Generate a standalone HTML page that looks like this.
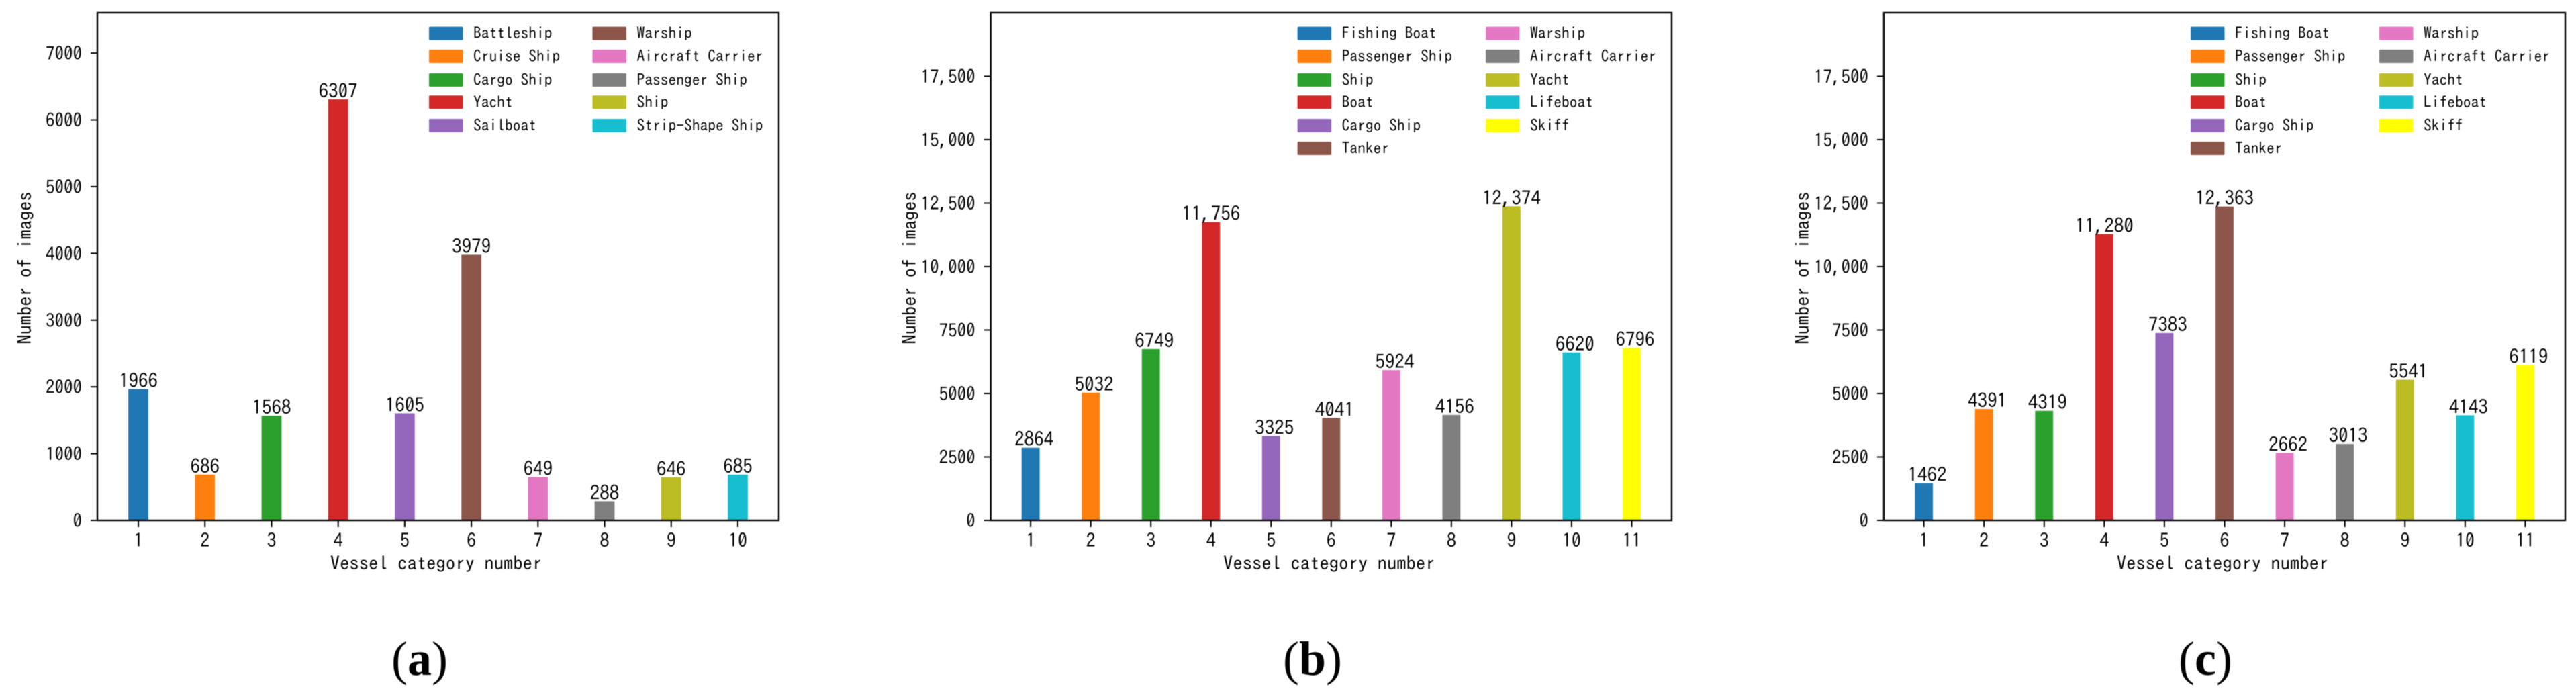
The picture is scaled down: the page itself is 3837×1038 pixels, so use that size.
<!DOCTYPE html>
<html>
<head>
<meta charset="utf-8">
<style>
html,body{margin:0;padding:0;background:#fff;}
svg{display:block;filter:blur(0.6px);}
text{font-family:"IPAGothic","Liberation Mono",monospace;fill:#000;}
.caption{font-family:"Liberation Serif",serif;}
</style>
</head>
<body>
<svg id="figure" xmlns="http://www.w3.org/2000/svg" width="3837" height="1038" viewBox="0 0 3837 1038"></svg>
<script>
const palette = ['#1f77b4','#ff7f0e','#2ca02c','#d62728','#9467bd','#8c564b','#e377c2','#7f7f7f','#bcbd22','#17becf','#ffff00'];

const aCategories = ['1','2','3','4','5','6','7','8','9','10'];
const aValues = [1966,686,1568,6307,1605,3979,649,288,646,685];
const aPrinted = ['1966','686','1568','6307','1605','3979','649','288','646','685'];
const aLegendNames = ['Battleship','Cruise Ship','Cargo Ship','Yacht','Sailboat','Warship','Aircraft Carrier','Passenger Ship','Ship','Strip-Shape Ship'];
const aTickValues = [0,1000,2000,3000,4000,5000,6000,7000];
const aTickLabels = ['0','1000','2000','3000','4000','5000','6000','7000'];

const bCategories = ['1','2','3','4','5','6','7','8','9','10','11'];
const bValues = [2864,5032,6749,11756,3325,4041,5924,4156,12374,6620,6796];
const bPrinted = ['2864','5032','6749','11,756','3325','4041','5924','4156','12,374','6620','6796'];
const bLegendNames = ['Fishing Boat','Passenger Ship','Ship','Boat','Cargo Ship','Tanker','Warship','Aircraft Carrier','Yacht','Lifeboat','Skiff'];
const bTickValues = [0,2500,5000,7500,10000,12500,15000,17500];
const bTickLabels = ['0','2500','5000','7500','10,000','12,500','15,000','17,500'];

const cCategories = ['1','2','3','4','5','6','7','8','9','10','11'];
const cValues = [1462,4391,4319,11280,7383,12363,2662,3013,5541,4143,6119];
const cPrinted = ['1462','4391','4319','11,280','7383','12,363','2662','3013','5541','4143','6119'];
const cLegendNames = ['Fishing Boat','Passenger Ship','Ship','Boat','Cargo Ship','Tanker','Warship','Aircraft Carrier','Yacht','Lifeboat','Skiff'];
const cTickValues = [0,2500,5000,7500,10000,12500,15000,17500];
const cTickLabels = ['0','2500','5000','7500','10,000','12,500','15,000','17,500'];

const NS = 'http://www.w3.org/2000/svg';
const figure = document.getElementById('figure');

function make(tag, attrs, parent, content) {
  const el = document.createElementNS(NS, tag);
  for (const k in attrs) el.setAttribute(k, attrs[k]);
  if (content !== undefined) el.textContent = content;
  parent.appendChild(el);
  return el;
}

function drawPanel(p) {
  const top = 19, bottom = 775;
  const g = make('g', {}, figure);
  
  

  const n = p.categories.length;
  const margin = 0.15 + 0.05 * (n - 1 + 0.3);
  const xMin = 1 - margin, xMax = n + margin;
  const xScale = v => p.left + (v - xMin) / (xMax - xMin) * (p.right - p.left);
  const yScale = v => bottom - v / p.yMax * (bottom - top);
  const barWidth = xScale(1.3) - xScale(1);

  p.values.forEach((v, i) => {
    const bar = make('rect', {x: xScale(i + 1) - barWidth / 2, y: yScale(v), width: barWidth, height: bottom - yScale(v), fill: palette[i]}, g);
    
    
    const shift = p.printed[i].length > 4 ? 0 : p.labelShift;
    const lab = make('text', {x: xScale(i + 1) + shift, y: yScale(v) - 2, 'text-anchor': 'middle', 'font-size': 29}, g, p.printed[i]);
    
    
  });

  const frame = make('rect', {x: p.left, y: top, width: p.right - p.left, height: bottom - top, fill: 'none', stroke: '#000', 'stroke-width': 2.4}, g);
  
  

  p.categories.forEach((c, i) => {
    const x = xScale(i + 1);
    const tick = make('line', {x1: x, x2: x, y1: bottom, y2: bottom + 10, stroke: '#000', 'stroke-width': 2}, g);
    
    
    const label = make('text', {x: x, y: 815, 'text-anchor': 'middle', 'font-size': 28}, g, c);
    
    
  });

  p.tickValues.forEach((v, i) => {
    const y = yScale(v);
    const tick = make('line', {x1: p.left - 10, x2: p.left, y1: y, y2: y, stroke: '#000', 'stroke-width': 2}, g);
    
    
    const label = make('text', {x: p.left - 23, y: y + 10.5, 'text-anchor': 'end', 'font-size': 27}, g, p.tickLabels[i]);
    
    
  });

  const xTitle = make('text', {x: (p.left + p.right) / 2 - 3, y: 849, 'text-anchor': 'middle', 'font-size': 28.7}, g, 'Vessel category number');
  
  

  const yTitle = make('text', {x: 0, y: 0, 'text-anchor': 'middle', 'font-size': 28.4, transform: 'translate(' + p.yTitleX + ',399) rotate(-90)'}, g, 'Number of images');
  
  

  const legendRows = [49.6, 84, 119, 152.3, 187, 221];
  const perColumn = n > 10 ? 6 : 5;
  p.legendNames.forEach((name, i) => {
    const col = i < perColumn ? 0 : 1;
    const rowY = legendRows[col === 0 ? i : i - perColumn];
    const swatchX = p.legendX[col];
    const sw = make('rect', {x: swatchX, y: rowY - 10, width: 50.5, height: 20, rx: 1.5, fill: palette[i]}, g);
    
    
    const tx = make('text', {x: swatchX + 66, y: rowY + 8, 'font-size': 23.5}, g, name);
    
    
  });

  const cap = make('text', {x: p.captionX, y: 1005, 'text-anchor': 'middle', 'font-size': 72, class: 'caption'}, g);
  
  
  make('tspan', {}, cap, '(');
  make('tspan', {'font-weight': 'bold'}, cap, p.id);
  make('tspan', {}, cap, ')');
}

drawPanel({id: 'a', left: 145, right: 1160, yMax: 7605, categories: aCategories, values: aValues, printed: aPrinted, legendNames: aLegendNames, tickValues: aTickValues, tickLabels: aTickLabels, legendX: [639, 882.5], yTitleX: 47, captionX: 625, labelShift: 0});
drawPanel({id: 'b', left: 1475.6, right: 2490, yMax: 20000, categories: bCategories, values: bValues, printed: bPrinted, legendNames: bLegendNames, tickValues: bTickValues, tickLabels: bTickLabels, legendX: [1932.6, 2213], yTitleX: 1365, captionX: 1955, labelShift: 5});
drawPanel({id: 'c', left: 2806, right: 3821, yMax: 20000, categories: cCategories, values: cValues, printed: cPrinted, legendNames: cLegendNames, tickValues: cTickValues, tickLabels: cTickLabels, legendX: [3263, 3544], yTitleX: 2695, captionX: 3285, labelShift: 5});
</script>
</body>
</html>
